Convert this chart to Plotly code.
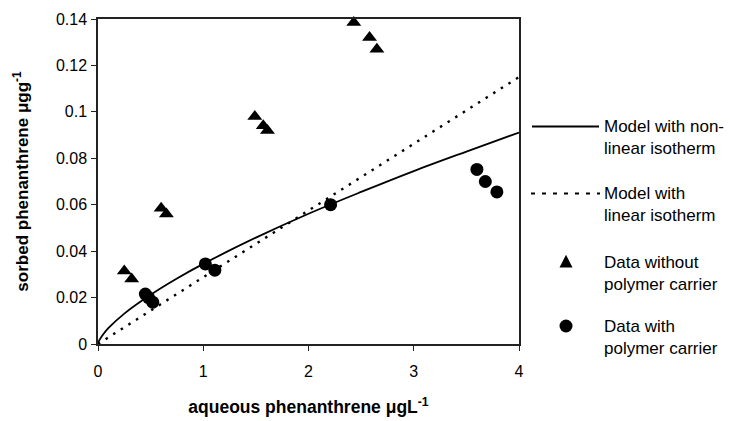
import plotly.graph_objects as go

# ---- data ----
tri_x = [0.25, 0.32, 0.60, 0.65, 1.49, 1.57, 1.61, 2.43, 2.58, 2.65]
tri_y = [0.0315, 0.0280, 0.0585, 0.0560, 0.0980, 0.0940, 0.0920, 0.1385, 0.1320, 0.1270]

circ_x = [0.45, 0.48, 0.52, 1.02, 1.11, 2.21, 3.60, 3.68, 3.79]
circ_y = [0.0215, 0.0200, 0.0180, 0.0345, 0.0318, 0.0600, 0.0752, 0.0700, 0.0655]

nl_x = [0, 0.01, 0.02, 0.05, 0.1, 0.25, 0.5, 0.75, 1.0, 1.5, 2.0, 2.5, 3.0, 3.5, 4.0]
nl_y = [0, 0.0014, 0.0022, 0.0042, 0.0069, 0.0131, 0.0212, 0.0282, 0.0345, 0.0458,
        0.0561, 0.0655, 0.0745, 0.0829, 0.0911]

lin_x = [0, 4.0]
lin_y = [0, 0.1150]

x_ticks = [0, 1, 2, 3, 4]
x_ticktext = ["0", "1", "2", "3", "4"]
y_ticks = [0, 0.02, 0.04, 0.06, 0.08, 0.10, 0.12, 0.14]
y_ticktext = ["0", "0.02", "0.04", "0.06", "0.08", "0.1", "0.12", "0.14"]

legend_labels = ["Model with non-<br>linear isotherm",
                 "Model with<br>linear isotherm",
                 "Data without<br>polymer carrier",
                 "Data with<br>polymer carrier"]

FONT = "Liberation Sans, Arial, sans-serif"
W, H = 730, 421
L, R, T, B = 98, 211, 19, 77
PW, PH = W - L - R, H - T - B


def px(xp):
    return (xp - L) / PW


def py(yp):
    return (H - B - yp) / PH


fig = go.Figure()
fig.add_trace(go.Scatter(x=lin_x, y=lin_y, mode="lines", name=legend_labels[1],
                         line=dict(color="black", width=2.4, dash="2.5px,6.5px"),
                         showlegend=False))
fig.add_trace(go.Scatter(x=nl_x, y=nl_y, mode="lines", name=legend_labels[0],
                         line=dict(color="black", width=1.8, shape="spline"),
                         showlegend=False))
fig.add_trace(go.Scatter(x=tri_x, y=tri_y, mode="markers", name=legend_labels[2],
                         marker=dict(symbol="triangle-up", size=13, color="black"),
                         showlegend=False, cliponaxis=False))
fig.add_trace(go.Scatter(x=circ_x, y=circ_y, mode="markers", name=legend_labels[3],
                         marker=dict(symbol="circle", size=13, color="black"),
                         showlegend=False, cliponaxis=False))

axis_common = dict(showgrid=False, zeroline=False, showline=True, mirror=True,
                   linecolor="#222", linewidth=1.5, ticks="outside", ticklen=5,
                   tickcolor="#222", tickfont=dict(family=FONT, size=16, color="black"))

fig.update_xaxes(range=[0, 4], tickvals=x_ticks, ticktext=x_ticktext,
                 title=dict(text="<b>aqueous phenanthrene μgL<sup>-1</sup></b>",
                            font=dict(family=FONT, size=17.5, color="black"), standoff=22),
                 ticklabelstandoff=7, **axis_common)
fig.update_yaxes(range=[0, 0.14], tickvals=y_ticks, ticktext=y_ticktext,
                 title=dict(text="<b>sorbed phenanthrene μgg<sup>-1</sup></b>",
                            font=dict(family=FONT, size=17, color="black"), standoff=23),
                 ticklabelstandoff=1, **axis_common)

# ---- custom legend on the right ----
shapes = []
annotations = []
ys = [126.5, 193.5, 262, 326]
shapes.append(dict(type="line", xref="paper", yref="paper", x0=px(532), x1=px(599),
                   y0=py(ys[0]), y1=py(ys[0]), line=dict(color="black", width=1.8)))
shapes.append(dict(type="line", xref="paper", yref="paper", x0=px(531), x1=px(600),
                   y0=py(ys[1]), y1=py(ys[1]), line=dict(color="black", width=1.8, dash="4px,7px")))
cx, r = 566, 6.5
yt = ys[2]
shapes.append(dict(type="path", xref="paper", yref="paper",
                   path=f"M {px(cx - r)},{py(yt + r * 0.85)} L {px(cx + r)},{py(yt + r * 0.85)} "
                        f"L {px(cx)},{py(yt - r * 1.1)} Z",
                   fillcolor="black", line=dict(color="black", width=0)))
yc = ys[3]
shapes.append(dict(type="circle", xref="paper", yref="paper",
                   x0=px(cx - r), x1=px(cx + r), y0=py(yc - r), y1=py(yc + r),
                   fillcolor="black", line=dict(color="black", width=0)))
for lab, yv in zip(legend_labels, ys):
    annotations.append(dict(xref="paper", yref="paper", x=px(602), y=py(yv + 11),
                            xanchor="left", yanchor="middle", align="left",
                            text=lab, showarrow=False,
                            font=dict(family=FONT, size=17, color="black")))

fig.update_layout(width=W, height=H, margin=dict(l=L, r=R, t=T, b=B, autoexpand=False),
                  plot_bgcolor="white", paper_bgcolor="white",
                  shapes=shapes, annotations=annotations, showlegend=False,
                  font=dict(family=FONT, color="black"))

fig.write_html("out.html", config={"displayModeBar": False},
               post_script="document.body.style.margin='0';")
